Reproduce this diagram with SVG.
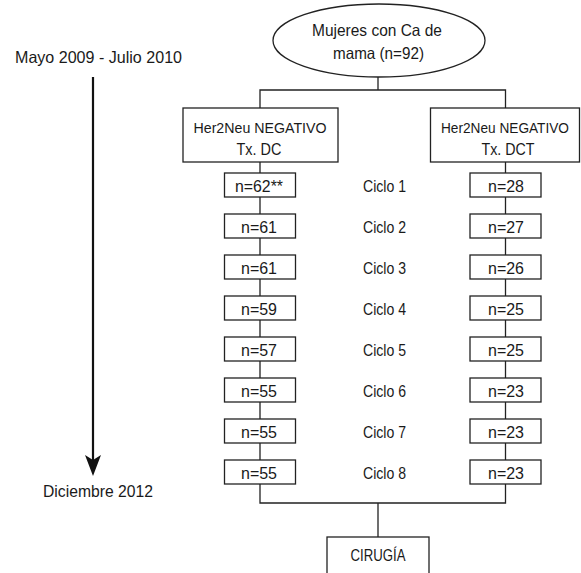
<svg xmlns="http://www.w3.org/2000/svg" width="581" height="573" viewBox="0 0 581 573">
<style>
text{font-family:"Liberation Sans",Arial,sans-serif;font-size:16.5px;fill:#1a1a1a;text-anchor:middle}
text.h{font-size:15px}
.box{fill:#fff;stroke:#222;stroke-width:1.3}
.ln{fill:none;stroke:#222;stroke-width:1.3}
</style>
<g id="timeline">
<text x="98.5" y="63" textLength="167" lengthAdjust="spacingAndGlyphs">Mayo 2009 - Julio 2010</text>
<line x1="93" y1="77" x2="93" y2="460" stroke="#111" stroke-width="2.2"/>
<path d="M85,455 L93,460 L101,455 L93,476 Z" fill="#111"/>
<text x="98" y="497" textLength="110" lengthAdjust="spacingAndGlyphs">Diciembre 2012</text>
</g>
<g id="connectors" class="ln">
<path class="ln" d="M378,77 V90 M260,108 V90 H505.5 V108"/>
<path class="ln" d="M260,162 V484 M505.5,162 V484"/>
<path class="ln" d="M260,484 V503 H505.5 V484 M378,503 V537"/>
</g>
<g id="root">
<ellipse cx="379" cy="40.5" rx="106" ry="36.5" class="box"/>
<text x="377" y="36" textLength="130" lengthAdjust="spacingAndGlyphs">Mujeres con Ca de</text>
<text x="378.5" y="59" textLength="91" lengthAdjust="spacingAndGlyphs">mama (n=92)</text>
</g>
<g id="dc">
<rect x="183" y="108" width="155" height="54" class="box"/>
<text class="h" x="260" y="133" textLength="133" lengthAdjust="spacingAndGlyphs">Her2Neu NEGATIVO</text>
<text x="259" y="155" textLength="45" lengthAdjust="spacingAndGlyphs">Tx. DC</text>
</g>
<g id="dct">
<rect x="430.5" y="108" width="149" height="54" class="box"/>
<text class="h" x="505" y="133" textLength="128" lengthAdjust="spacingAndGlyphs">Her2Neu NEGATIVO</text>
<text x="508" y="155" textLength="53" lengthAdjust="spacingAndGlyphs">Tx. DCT</text>
</g>
<g id="dc-c1"><rect x="224.5" y="173" width="71" height="24" class="box"/><text x="259" y="192" textLength="48" lengthAdjust="spacingAndGlyphs">n=62**</text></g>
<g id="dc-c2"><rect x="224.5" y="214" width="71" height="24" class="box"/><text x="259" y="233" textLength="36" lengthAdjust="spacingAndGlyphs">n=61</text></g>
<g id="dc-c3"><rect x="224.5" y="255" width="71" height="24" class="box"/><text x="259" y="274" textLength="36" lengthAdjust="spacingAndGlyphs">n=61</text></g>
<g id="dc-c4"><rect x="224.5" y="296" width="71" height="24" class="box"/><text x="259" y="315" textLength="36" lengthAdjust="spacingAndGlyphs">n=59</text></g>
<g id="dc-c5"><rect x="224.5" y="337" width="71" height="24" class="box"/><text x="259" y="356" textLength="36" lengthAdjust="spacingAndGlyphs">n=57</text></g>
<g id="dc-c6"><rect x="224.5" y="378" width="71" height="24" class="box"/><text x="259" y="397" textLength="36" lengthAdjust="spacingAndGlyphs">n=55</text></g>
<g id="dc-c7"><rect x="224.5" y="419" width="71" height="24" class="box"/><text x="259" y="438" textLength="36" lengthAdjust="spacingAndGlyphs">n=55</text></g>
<g id="dc-c8"><rect x="224.5" y="460" width="71" height="24" class="box"/><text x="259" y="479" textLength="36" lengthAdjust="spacingAndGlyphs">n=55</text></g>
<g id="dct-c1"><rect x="470" y="173" width="71" height="24" class="box"/><text x="506" y="192" textLength="36" lengthAdjust="spacingAndGlyphs">n=28</text></g>
<g id="dct-c2"><rect x="470" y="214" width="71" height="24" class="box"/><text x="506" y="233" textLength="36" lengthAdjust="spacingAndGlyphs">n=27</text></g>
<g id="dct-c3"><rect x="470" y="255" width="71" height="24" class="box"/><text x="506" y="274" textLength="36" lengthAdjust="spacingAndGlyphs">n=26</text></g>
<g id="dct-c4"><rect x="470" y="296" width="71" height="24" class="box"/><text x="506" y="315" textLength="36" lengthAdjust="spacingAndGlyphs">n=25</text></g>
<g id="dct-c5"><rect x="470" y="337" width="71" height="24" class="box"/><text x="506" y="356" textLength="36" lengthAdjust="spacingAndGlyphs">n=25</text></g>
<g id="dct-c6"><rect x="470" y="378" width="71" height="24" class="box"/><text x="506" y="397" textLength="36" lengthAdjust="spacingAndGlyphs">n=23</text></g>
<g id="dct-c7"><rect x="470" y="419" width="71" height="24" class="box"/><text x="506" y="438" textLength="36" lengthAdjust="spacingAndGlyphs">n=23</text></g>
<g id="dct-c8"><rect x="470" y="460" width="71" height="24" class="box"/><text x="506" y="479" textLength="36" lengthAdjust="spacingAndGlyphs">n=23</text></g>
<g id="ciclos">
<text x="384.5" y="192" textLength="43" lengthAdjust="spacingAndGlyphs">Ciclo 1</text>
<text x="384.5" y="233" textLength="43" lengthAdjust="spacingAndGlyphs">Ciclo 2</text>
<text x="384.5" y="274" textLength="43" lengthAdjust="spacingAndGlyphs">Ciclo 3</text>
<text x="384.5" y="315" textLength="43" lengthAdjust="spacingAndGlyphs">Ciclo 4</text>
<text x="384.5" y="356" textLength="43" lengthAdjust="spacingAndGlyphs">Ciclo 5</text>
<text x="384.5" y="397" textLength="43" lengthAdjust="spacingAndGlyphs">Ciclo 6</text>
<text x="384.5" y="438" textLength="43" lengthAdjust="spacingAndGlyphs">Ciclo 7</text>
<text x="384.5" y="479" textLength="43" lengthAdjust="spacingAndGlyphs">Ciclo 8</text>
</g>
<g id="cirugia">
<rect x="327" y="537" width="102" height="50" class="box"/>
<text x="378" y="561" textLength="55" lengthAdjust="spacingAndGlyphs">CIRUGÍA</text>
</g>
</svg>
